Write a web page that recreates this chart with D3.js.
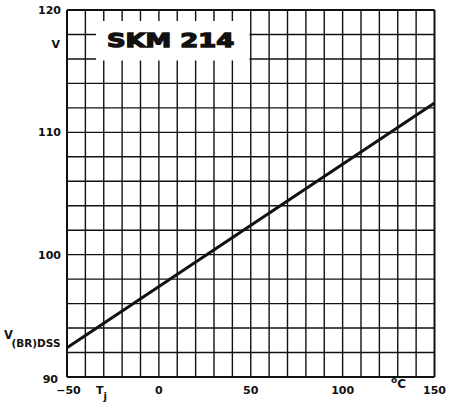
<!DOCTYPE html>
<html><head><meta charset="utf-8">
<script src="https://cdn.jsdelivr.net/npm/d3@7"></script>
<style>body{margin:0;background:#fff}svg{display:block}text{font-family:"DejaVu Sans",sans-serif;fill:#111}</style>
</head><body>
<svg id="c" width="449" height="404"></svg>
<script>
const temps = [-50, 150];
const vbr = [92.4, 112.4];
const xTicks = [-50, 0, 50, 100, 150];
const yTicks = [90, 100, 110, 120];
const xGrid = d3.range(-50, 151, 10);
const yGrid = d3.range(90, 121, 2);

const svg = d3.select("#c");
const x = d3.scaleLinear().domain([-50, 150]).range([67, 434.5]);
const y = d3.scaleLinear().domain([90, 120]).range([377, 10]);

const g = svg.append("g");
g.selectAll("line.v").data(xGrid).enter().append("line")
  .attr("x1", d => x(d)).attr("x2", d => x(d))
  .attr("y1", y(90)).attr("y2", y(120))
  .attr("stroke", "#111").attr("stroke-width", d => (d === -50 || d === 150) ? 2 : 1.4);
g.selectAll("line.h").data(yGrid).enter().append("line")
  .attr("y1", d => y(d)).attr("y2", d => y(d))
  .attr("x1", x(-50)).attr("x2", x(150))
  .attr("stroke", "#111").attr("stroke-width", d => (d === 90 || d === 120) ? 2 : 1.4);

// title box
svg.append("rect").attr("x", 96).attr("y", 21).attr("width", 153.5).attr("height", 39.5).attr("fill", "#fff");
svg.append("text").attr("transform", "translate(107,47) scale(1.36,1)")
  .attr("font-size", 19).attr("font-weight", "bold")
  .attr("stroke", "#111").attr("stroke-width", 1.3)
  .text("SKM 214");

// curve
const data = temps.map((t, i) => ({t, v: vbr[i]}));
svg.append("path").datum(data)
  .attr("d", d3.line().x(d => x(d.t)).y(d => y(d.v)))
  .attr("fill", "none").attr("stroke", "#111").attr("stroke-width", 3);

// y tick labels
svg.selectAll("text.yt").data(yTicks).enter().append("text")
  .attr("x", d => d === 90 ? 58 : 61).attr("y", d => d === 90 ? y(d) + 2 : y(d))
  .attr("dy", "0.36em").attr("text-anchor", "end")
  .attr("font-size", 11).attr("font-weight", "bold").text(d => d);

// x tick labels
svg.selectAll("text.xt").data(xTicks).enter().append("text")
  .attr("x", d => d === -50 ? x(d) + 1.5 : x(d)).attr("y", 394)
  .attr("text-anchor", "middle")
  .attr("font-size", 11).attr("font-weight", "bold").text(d => d === -50 ? "\u221250" : d);

// unit labels
svg.append("text").attr("x", 60).attr("y", 47.5).attr("text-anchor", "end")
  .attr("font-size", 11).attr("font-weight", "bold").text("V");
const vl = svg.append("text").attr("x", 4).attr("y", 338.5).attr("font-size", 11.5).attr("font-weight", "bold");
vl.append("tspan").text("V");
vl.append("tspan").attr("dy", 8).attr("dx", -1.5).attr("font-size", 10.5).text("(BR)DSS");

const tj = svg.append("text").attr("x", 96).attr("y", 394).attr("font-size", 11).attr("font-weight", "bold");
tj.append("tspan").text("T");
tj.append("tspan").attr("dy", 6).attr("font-size", 10).text("j");

const oc = svg.append("text").attr("x", 391).attr("y", 388).attr("font-size", 12).attr("font-weight", "bold");
oc.append("tspan").attr("dy", -5).attr("font-size", 9).text("o");
oc.append("tspan").attr("dy", 5).text("C");
</script>
</body></html>
